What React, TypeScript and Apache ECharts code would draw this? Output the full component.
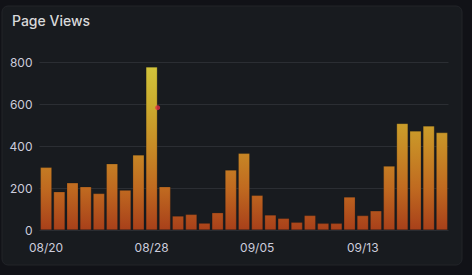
import React, { useEffect, useRef } from "react";
import * as echarts from "echarts";

const dates = [
  "08/20", "08/21", "08/22", "08/23", "08/24", "08/25", "08/26", "08/27", "08/28", "08/29",
  "08/30", "08/31", "09/01", "09/02", "09/03", "09/04", "09/05", "09/06", "09/07", "09/08",
  "09/09", "09/10", "09/11", "09/12", "09/13", "09/14", "09/15", "09/16", "09/17", "09/18", "09/19",
];
const pageViews = [
  300, 183, 226, 207, 175, 317, 191, 359, 780, 207,
  67, 75, 33, 83, 287, 367, 166, 72, 56, 37,
  70, 32, 32, 158, 69, 92, 306, 510, 474, 498, 466,
];
const yTicks = [0, 200, 400, 600, 800];
const marker = { date: "08/28", value: 585 };

// colour scheme by absolute value (Grafana "scheme" gradient)
const schemeStops: [number, number[]][] = [
  [0, [168, 64, 26]],
  [200, [192, 106, 32]],
  [400, [200, 140, 38]],
  [600, [204, 172, 46]],
  [800, [210, 198, 60]],
];

function colorAt(v: number): string {
  for (let i = 1; i < schemeStops.length; i++) {
    const [v0, c0] = schemeStops[i - 1];
    const [v1, c1] = schemeStops[i];
    if (v <= v1) {
      const t = (v - v0) / (v1 - v0);
      const c = c0.map((x, k) => Math.round(x + (c1[k] - x) * t));
      return `rgb(${c[0]},${c[1]},${c[2]})`;
    }
  }
  const c = schemeStops[schemeStops.length - 1][1];
  return `rgb(${c[0]},${c[1]},${c[2]})`;
}

function barGradient(v: number) {
  const stops: { offset: number; color: string }[] = [{ offset: 0, color: colorAt(0) }];
  schemeStops.forEach(([sv]) => {
    if (sv > 0 && sv < v) stops.push({ offset: sv / v, color: colorAt(sv) });
  });
  stops.push({ offset: 1, color: colorAt(v) });
  return new echarts.graphic.LinearGradient(0, 1, 0, 0, stops);
}

export default function App() {
  const ref = useRef<HTMLDivElement>(null);
  useEffect(() => {
    document.body.style.margin = "0";
    const chart = echarts.init(ref.current!, null, { renderer: "svg" });
    const font = "Inter, 'Noto Sans', sans-serif";
    chart.setOption({
      animation: false,
      backgroundColor: "#111217",
      textStyle: { fontFamily: font },
      graphic: [
        {
          type: "rect",
          z: -10,
          shape: { x: 2, y: 6, width: 460, height: 259, r: 6 },
          style: { fill: "#181b1f", stroke: "#222429", lineWidth: 1 },
          silent: true,
        },
        {
          type: "text",
          left: 12,
          top: 13,
          style: {
            text: "Page Views",
            fill: "#d8d9da",
            font: `500 14px ${font}`,
          },
        },
      ],
      grid: { left: 39.5, right: 23.5, top: 62.7, bottom: 45 },
      xAxis: {
        type: "category",
        data: dates,
        axisLine: { show: false },
        axisTick: { show: false },
        axisLabel: {
          interval: 7,
          color: "#ccccdc",
          fontSize: 12,
          margin: 11,
          fontFamily: font,
        },
        splitLine: { show: false },
      },
      yAxis: {
        type: "value",
        min: 0,
        max: 800,
        interval: 200,
        axisLine: { show: false },
        axisTick: { show: false },
        axisLabel: {
          color: "#ccccdc",
          fontSize: 12,
          margin: 7,
          fontFamily: font,
          formatter: (v: number) => (yTicks.includes(v) ? String(v) : ""),
        },
        splitLine: { lineStyle: { color: "#2b2e33", width: 1 } },
      },
      series: [
        {
          type: "bar",
          barCategoryGap: "12%",
          data: pageViews.map((v) => ({
            value: v,
            itemStyle: {
              color: barGradient(v),
              borderColor: "rgba(20,20,20,0.35)",
              borderWidth: 0.6,
            },
          })),
        },
        {
          type: "scatter",
          data: [[marker.date, marker.value]],
          symbolSize: 5,
          symbolOffset: [6, 0],
          itemStyle: { color: "#e02f44" },
          z: 5,
        },
      ],
    });
    return () => chart.dispose();
  }, []);
  return <div ref={ref} style={{ width: 472, height: 275 }} />;
}
